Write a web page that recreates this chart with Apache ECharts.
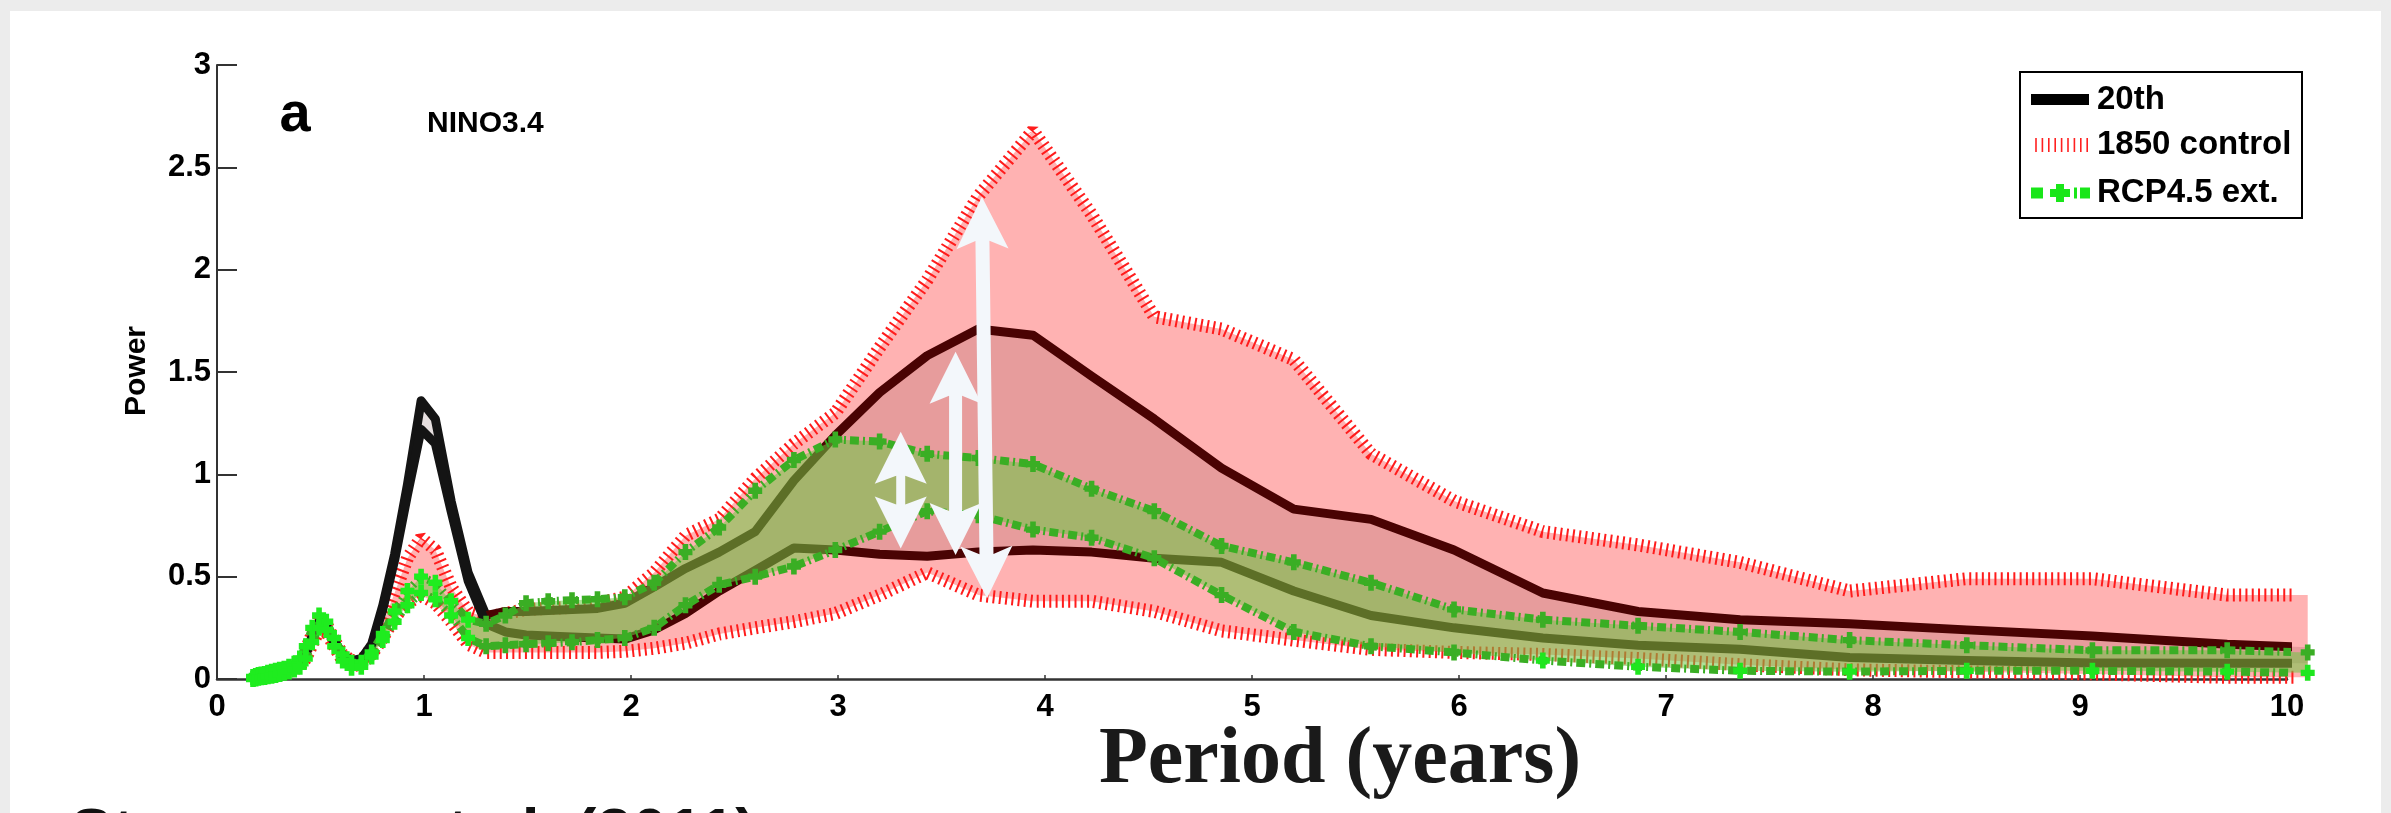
<!DOCTYPE html>
<html>
<head>
<meta charset="utf-8">
<script src="https://cdn.jsdelivr.net/npm/echarts@6/dist/echarts.min.js"></script>
<style>
  html, body { margin: 0; padding: 0; background: #ececec; }
  #chart { width: 2391px; height: 813px; }
</style>
</head>
<body>
<div id="chart"></div>
<script>
// Wavelet period grid (years)
const period = [0.174,0.187,0.200,0.214,0.230,0.246,0.264,0.283,0.303,0.325,0.348,0.373,0.400,0.429,0.460,0.493,0.528,0.566,0.607,0.650,0.697,0.747,0.801,0.858,0.920,0.986,1.055,1.131,1.213,1.300,1.393,1.493,1.600,1.715,1.838,1.970,2.112,2.263,2.426,2.600,2.787,2.987,3.201,3.431,3.678,3.942,4.225,4.528,4.853,5.202,5.575,5.976,6.405,6.865,7.358,7.887,8.453,9.060,9.711,10.100];

// 20th century ensemble range
const twentiethUpper = [0.005,0.008,0.010,0.012,0.015,0.018,0.020,0.025,0.030,0.035,0.045,0.060,0.080,0.130,0.210,0.280,0.260,0.190,0.120,0.090,0.100,0.170,0.360,0.610,0.950,1.360,1.270,0.870,0.520,0.310,0.330,0.330,0.335,0.340,0.345,0.370,0.450,0.540,0.620,0.720,0.970,1.190,1.400,1.580,1.710,1.680,1.480,1.270,1.030,0.830,0.780,0.630,0.420,0.330,0.290,0.270,0.240,0.210,0.170,0.155];
const twentiethLower = [0.003,0.005,0.008,0.010,0.012,0.015,0.018,0.022,0.027,0.032,0.040,0.055,0.070,0.120,0.200,0.260,0.245,0.180,0.110,0.085,0.095,0.160,0.340,0.580,0.900,1.220,1.150,0.820,0.480,0.270,0.230,0.215,0.210,0.205,0.200,0.195,0.240,0.320,0.430,0.530,0.640,0.630,0.610,0.600,0.620,0.630,0.620,0.590,0.570,0.430,0.310,0.250,0.200,0.165,0.145,0.105,0.090,0.078,0.077,0.077];

// 1850 control range
const controlUpper = [0.010,0.012,0.015,0.017,0.020,0.022,0.025,0.030,0.035,0.040,0.050,0.065,0.085,0.140,0.220,0.290,0.270,0.190,0.120,0.090,0.090,0.150,0.270,0.420,0.590,0.690,0.630,0.450,0.330,0.300,0.320,0.340,0.345,0.350,0.370,0.400,0.520,0.700,0.780,0.980,1.150,1.300,1.620,1.950,2.360,2.680,2.270,1.770,1.710,1.560,1.100,0.870,0.720,0.655,0.570,0.430,0.490,0.490,0.410,0.410];
const controlLower = [0.000,0.003,0.005,0.007,0.010,0.012,0.015,0.018,0.022,0.027,0.035,0.045,0.060,0.100,0.170,0.240,0.230,0.160,0.090,0.065,0.070,0.120,0.200,0.300,0.370,0.410,0.370,0.280,0.170,0.130,0.130,0.130,0.130,0.130,0.130,0.135,0.150,0.175,0.220,0.250,0.280,0.320,0.410,0.520,0.410,0.380,0.380,0.330,0.235,0.190,0.145,0.130,0.120,0.100,0.070,0.045,0.035,0.025,0.008,0.008];

// RCP4.5 extension range
const rcpUpper = [0.010,0.015,0.020,0.022,0.025,0.030,0.035,0.040,0.045,0.050,0.060,0.075,0.100,0.160,0.250,0.310,0.280,0.200,0.120,0.080,0.080,0.130,0.220,0.330,0.430,0.500,0.470,0.380,0.290,0.270,0.310,0.370,0.380,0.385,0.390,0.400,0.470,0.620,0.740,0.920,1.070,1.170,1.160,1.100,1.080,1.050,0.930,0.820,0.650,0.570,0.470,0.340,0.290,0.260,0.230,0.190,0.165,0.140,0.140,0.130];
const rcpLower = [0.000,0.003,0.006,0.008,0.010,0.013,0.016,0.020,0.024,0.030,0.037,0.047,0.060,0.100,0.180,0.250,0.240,0.160,0.090,0.055,0.060,0.110,0.190,0.280,0.360,0.420,0.390,0.310,0.200,0.160,0.165,0.170,0.175,0.180,0.190,0.200,0.250,0.360,0.460,0.500,0.550,0.630,0.720,0.820,0.800,0.730,0.690,0.590,0.410,0.230,0.160,0.130,0.090,0.060,0.040,0.036,0.040,0.040,0.036,0.030];

// Double-headed arrows: [period, power at lower tip, period, power at upper tip]
const arrows = [
  [3.303, 0.638, 3.303, 1.208],
  [3.568, 0.606, 3.568, 1.599],
  [3.720, 0.395, 3.695, 2.356]
];
const arrowShaft = [9, 13, 14];

const xTicks = [0,1,2,3,4,5,6,7,8,9,10];
const yTicks = [0,0.5,1,1.5,2,2.5,3];

const legendNames = ['20th', '1850 control', 'RCP4.5 ext.'];

const SANS = '"Liberation Sans", Arial, Helvetica, sans-serif';
const pairs = (ys) => period.map((p, i) => [p, ys[i]]);
// the annual-cycle part of the 20th-century curves is drawn black, the rest dark red
const SPLIT = period.indexOf(1.300);

// filled range between two curves
function band(upper, lower, fill, z) {
  return {
    type: 'custom',
    silent: true,
    z: z,
    clip: false,
    data: [[period[0], lower[0]]],
    renderItem: function (params, api) {
      const pts = [];
      for (let i = 0; i < period.length; i++) pts.push(api.coord([period[i], upper[i]]));
      for (let i = period.length - 1; i >= 0; i--) pts.push(api.coord([period[i], lower[i]]));
      return { type: 'polygon', shape: { points: pts }, style: { fill: fill } };
    }
  };
}

// tick-marked red bound: a wide, finely dashed stroke gives short cross ticks
function hatchLine(ys) {
  return {
    type: 'line', data: pairs(ys), symbol: 'none', silent: true, clip: false, z: 2,
    lineStyle: { width: 13, color: '#ff1c1c', type: [2, 4.3], cap: 'butt', join: 'bevel' }
  };
}

function darkLine(ys, from, to, color) {
  return {
    type: 'line', data: pairs(ys).slice(from, to), symbol: 'none', silent: true, clip: false, z: 4,
    lineStyle: { width: 9, color: color, join: 'round', cap: 'round' }
  };
}

const plusSymbol = 'path://M3,0H7V3H10V7H7V10H3V7H0V3H3Z';
function greenLine(ys) {
  return {
    type: 'line', data: pairs(ys), symbol: plusSymbol, symbolSize: [14, 16], showSymbol: true,
    silent: true, clip: false, z: 6,
    itemStyle: { color: '#3aae24' },
    lineStyle: { width: 8, color: '#3aae24', type: [9, 4, 2, 4], cap: 'butt' }
  };
}

const arrowSeries = {
  type: 'custom', silent: true, z: 8, clip: false,
  data: arrows,
  renderItem: function (params, api) {
    const a = api.coord([api.value(0), api.value(1)]);
    const b = api.coord([api.value(2), api.value(3)]);
    const dx = b[0] - a[0], dy = b[1] - a[1];
    const len = Math.hypot(dx, dy);
    const ux = dx / len, uy = dy / len, px = -uy, py = ux;
    const sw = arrowShaft[params.dataIndex] / 2, hw = 26, hl = 52, notch = 8;
    const P = (t, s) => [a[0] + ux * t + px * s, a[1] + uy * t + py * s];
    const pts = [
      P(0, 0), P(hl, hw), P(hl - notch, sw), P(len - hl + notch, sw), P(len - hl, hw),
      P(len, 0), P(len - hl, -hw), P(len - hl + notch, -sw), P(hl - notch, -sw), P(hl, -hw)
    ];
    return { type: 'polygon', shape: { points: pts }, style: { fill: '#f3f7fb' } };
  }
};

// legend box
const legendX = 2031, legendTextX = 2097;
const legendY = [99.5, 145, 193];
const legendGraphics = [
  { type: 'rect', shape: { x: 2020, y: 72, width: 282, height: 146 }, style: { fill: '#fff', stroke: '#000', lineWidth: 2 }, z: 100 },
  { type: 'rect', shape: { x: legendX, y: legendY[0] - 5.5, width: 58, height: 11 }, style: { fill: '#000' }, z: 101 }
];
for (let k = 0; k < 9; k++) {
  const x = 2036 + k * 6.4;
  legendGraphics.push({ type: 'line', shape: { x1: x, y1: legendY[1] - 7, x2: x, y2: legendY[1] + 7 }, style: { stroke: '#ff2020', lineWidth: 1.6 }, z: 101 });
}
legendGraphics.push(
  { type: 'rect', shape: { x: 2031, y: legendY[2] - 5.5, width: 12, height: 11 }, style: { fill: '#19e619' }, z: 101 },
  { type: 'rect', shape: { x: 2050, y: legendY[2] - 4, width: 20, height: 8 }, style: { fill: '#19e619' }, z: 101 },
  { type: 'rect', shape: { x: 2056, y: legendY[2] - 9, width: 8, height: 18 }, style: { fill: '#19e619' }, z: 101 },
  { type: 'rect', shape: { x: 2074, y: legendY[2] - 5.5, width: 3, height: 11 }, style: { fill: '#19e619' }, z: 101 },
  { type: 'rect', shape: { x: 2080, y: legendY[2] - 5.5, width: 10, height: 11 }, style: { fill: '#19e619' }, z: 101 }
);
legendNames.forEach((name, i) => {
  legendGraphics.push({
    type: 'text', x: legendTextX, y: legendY[i], z: 101,
    style: { text: name, font: 'bold 33px ' + SANS, fill: '#000', textAlign: 'left', textVerticalAlign: 'middle' }
  });
});

const chart = echarts.init(document.getElementById('chart'));
chart.setOption({
  animation: false,
  grid: { left: 217, right: 104, top: 65, bottom: 134, containLabel: false },
  xAxis: {
    type: 'value', min: xTicks[0], max: xTicks[xTicks.length - 1], interval: 1,
    axisLine: { show: true, lineStyle: { color: '#333', width: 2.5 } },
    axisTick: { show: true, inside: true, length: 4, lineStyle: { color: '#333', width: 1.5 } },
    axisLabel: { color: '#000', fontSize: 31, fontWeight: 'bold', fontFamily: SANS, margin: 13 },
    splitLine: { show: false }
  },
  yAxis: {
    type: 'value', min: yTicks[0], max: yTicks[yTicks.length - 1], interval: 0.5,
    axisLine: { show: true, lineStyle: { color: '#333', width: 2 } },
    axisTick: { show: true, inside: true, length: 20, lineStyle: { color: '#333', width: 2 } },
    axisLabel: { color: '#000', fontSize: 31, fontWeight: 'bold', fontFamily: SANS, margin: 6 },
    splitLine: { show: false }
  },
  visualMap: [
    { type: 'piecewise', show: false, dimension: 0, seriesIndex: [9],
      pieces: [{ gte: 0, lt: 1.3, color: '#1fec1f' }, { gte: 1.3, lte: 11, color: '#3aae24' }] },
    { type: 'piecewise', show: false, dimension: 0, seriesIndex: [10],
      pieces: [{ gte: 0, lt: 1.3, color: '#1fec1f' }, { gte: 1.3, lt: 6.3, color: '#3aae24' }, { gte: 6.3, lte: 11, color: '#1fe61f' }] }
  ],
  series: [
    band(controlUpper, controlLower, '#ffb2b2', 1),
    hatchLine(controlUpper),
    hatchLine(controlLower),
    band(twentiethUpper, twentiethLower, 'rgba(60,0,0,0.12)', 3),
    darkLine(twentiethUpper, 0, SPLIT + 1, '#141414'),
    darkLine(twentiethUpper, SPLIT, period.length, '#4a0303'),
    darkLine(twentiethLower, 0, SPLIT + 1, '#141414'),
    darkLine(twentiethLower, SPLIT, period.length, '#4a0303'),
    band(rcpUpper, rcpLower, 'rgba(110,200,70,0.55)', 5),
    greenLine(rcpUpper),
    greenLine(rcpLower),
    arrowSeries
  ],
  graphic: [
    { type: 'rect', shape: { x: 10, y: 11, width: 2371, height: 802 }, style: { fill: '#ffffff' }, z: -100, silent: true },
    { type: 'text', x: 295, y: 116, style: { text: 'a', font: 'bold 56px ' + SANS, fill: '#000', textAlign: 'center', textVerticalAlign: 'middle' } },
    { type: 'text', x: 427, y: 124, style: { text: 'NINO3.4', font: 'bold 30px ' + SANS, fill: '#000', textAlign: 'left', textVerticalAlign: 'middle' } },
    { type: 'text', x: 137, y: 371, rotation: Math.PI / 2, style: { text: 'Power', font: 'bold 30px ' + SANS, fill: '#000', textAlign: 'center', textVerticalAlign: 'middle' } },
    { type: 'text', x: 1340, y: 761, style: { text: 'Period (years)', font: 'bold 80px "Liberation Serif", "DejaVu Serif", serif', fill: '#1a1a1a', textAlign: 'center', textVerticalAlign: 'middle' } },
    { type: 'text', x: 70, y: 836, style: { text: 'Stevenson et al. (2011)', font: 'bold 64px ' + SANS, fill: '#111', textAlign: 'left', textVerticalAlign: 'middle' } }
  ].concat(legendGraphics)
});
</script>
</body>
</html>
